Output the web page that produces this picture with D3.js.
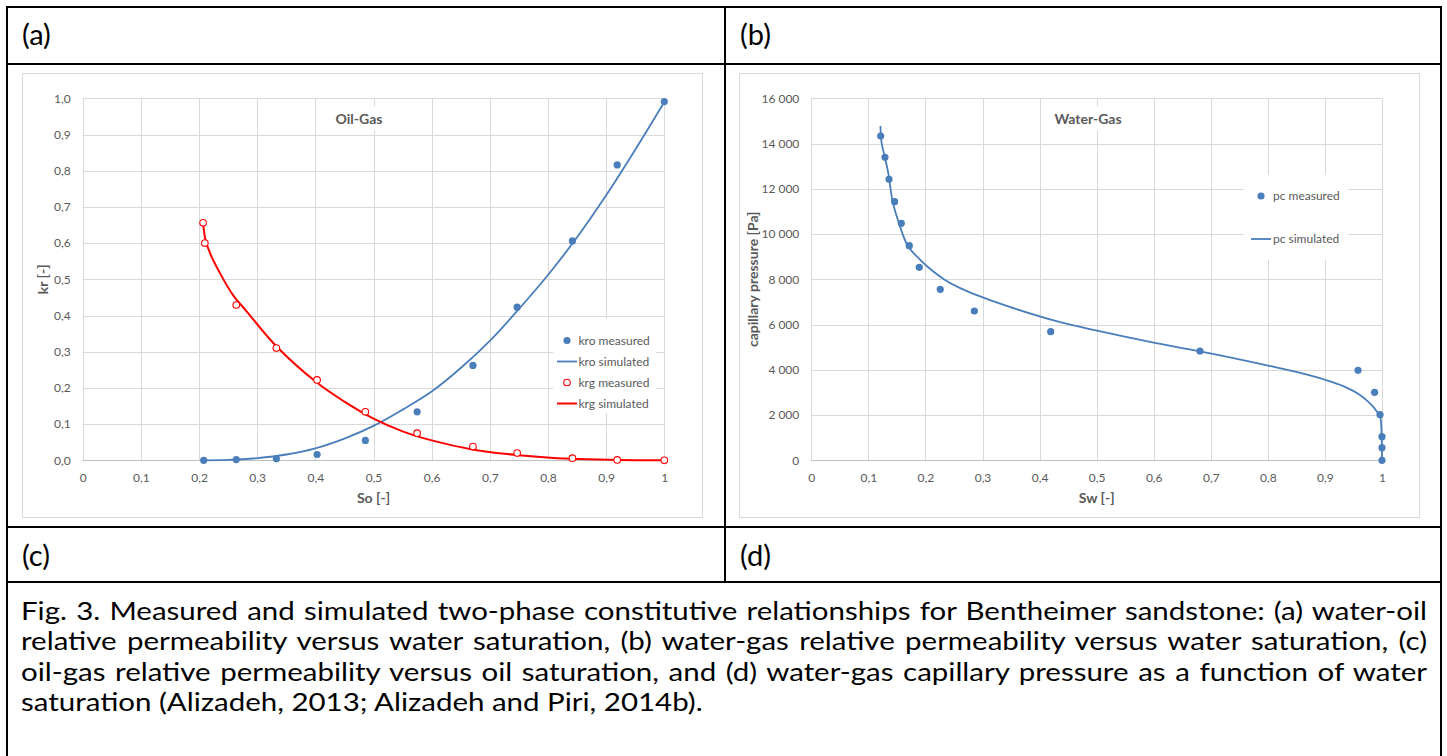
<!DOCTYPE html>
<html><head><meta charset="utf-8">
<script src="https://cdn.jsdelivr.net/npm/d3@7"></script>
<style>
html,body{margin:0;padding:0;background:#fff;}
svg{display:block;font-family:Lato,"Liberation Sans",sans-serif;}
</style></head><body>
<svg id="fig" width="1447" height="756"></svg>
<script>
// ---------------- data ----------------
// Panel (c): Oil-Gas relative permeability
const soKroMeasured = [0.208,0.264,0.333,0.403,0.486,0.575,0.671,0.747,0.842,0.919,1.0];
const kroMeasured   = [0.000,0.002,0.004,0.016,0.055,0.134,0.262,0.423,0.606,0.816,0.991];
const soKrgMeasured = [0.207,0.210,0.264,0.333,0.403,0.486,0.575,0.671,0.747,0.842,0.919,1.0];
const krgMeasured   = [0.656,0.600,0.429,0.310,0.222,0.134,0.075,0.038,0.020,0.006,0.001,0.000];
const soKroSimulated = [0.207,0.25,0.30,0.35,0.40,0.45,0.50,0.55,0.60,0.65,0.70,0.75,0.80,0.85,0.90,0.95,1.0];
const kroSimulated   = [0.000,0.001,0.006,0.016,0.033,0.060,0.095,0.140,0.190,0.255,0.330,0.418,0.512,0.616,0.732,0.858,0.990];
const soKrgSimulated = [0.207,0.211,0.219,0.236,0.259,0.281,0.333,0.403,0.45,0.50,0.55,0.60,0.67,0.75,0.84,0.92,1.0];
const krgSimulated   = [0.656,0.610,0.572,0.517,0.455,0.413,0.315,0.214,0.162,0.115,0.080,0.055,0.030,0.014,0.004,0.001,0.000];
const krXTicks = [0,0.1,0.2,0.3,0.4,0.5,0.6,0.7,0.8,0.9,1];
const krYTicks = [0,0.1,0.2,0.3,0.4,0.5,0.6,0.7,0.8,0.9,1.0];

// Panel (d): Water-Gas capillary pressure
const swPcMeasured = [0.1216,0.1291,0.1362,0.146,0.1577,0.1717,0.1892,0.226,0.2857,0.4195,0.681,0.958,0.987,0.9965,1.0,1.0,1.0];
const pcMeasured   = [14334,13392,12420,11431,10475,9486,8530,7558,6599,5684,4831,3978,3005,2016,1043,557,0];
const swPcSimulated = [0.1211,0.1233,0.129,0.135,0.1426,0.1537,0.169,0.19,0.21,0.235,0.26,0.29,0.345,0.4328,0.5006,0.60,0.699,0.7985,0.85,0.90,0.933,0.962,0.9795,0.991,0.9965,0.9988,0.9997,1.0];
const pcSimulated   = [14776,14011,13392,12685,11431,10475,9486,8880,8420,7960,7620,7300,6800,6127,5729,5199,4729,4200,3905,3560,3270,2880,2500,2160,1950,1485,601,0];
const pcXTicks = [0,0.1,0.2,0.3,0.4,0.5,0.6,0.7,0.8,0.9,1];
const pcYTicks = [0,2000,4000,6000,8000,10000,12000,14000,16000];

const panelLabels = ["(a)","(b)","(c)","(d)"];
const captionLines = [
  "Fig. 3. Measured and simulated two-phase constitutive relationships for Bentheimer sandstone: (a) water-oil",
  "relative permeability versus water saturation, (b) water-gas relative permeability versus water saturation, (c)",
  "oil-gas relative permeability versus oil saturation, and (d) water-gas capillary pressure as a function of water",
  "saturation (Alizadeh, 2013; Alizadeh and Piri, 2014b)."
];

// ---------------- drawing ----------------
const svg = d3.select("#fig");
const loc = d3.formatLocale({decimal:",", thousands:"\u00a0", grouping:[3], currency:["",""]});
const fmtShort = loc.format("");     // 0, 0,1, ... 1
const fmtOne = loc.format(".1f");    // 0,0 ... 1,0
const fmtThousands = loc.format(",");

const BLUE = "#4a7ebb", RED = "#ff0000", GRID = "#d9d9d9", TXT = "#595959";

function drawChart(o) {
  const g = svg.append("g");
  g.append("rect").attr("x", o.box[0]+0.5).attr("y", o.box[1]+0.5)
    .attr("width", o.box[2]-o.box[0]).attr("height", o.box[3]-o.box[1])
    .attr("fill", "#fff").attr("stroke", GRID).attr("stroke-width", 1);
  const x = d3.scaleLinear().domain([0,1]).range([o.plot[0], o.plot[2]]);
  const y = d3.scaleLinear().domain(o.yDomain).range([o.plot[3], o.plot[1]]);

  // grid
  g.append("g").selectAll("line").data(o.xTicks).join("line")
    .attr("x1", d => Math.round(x(d))+0.5).attr("x2", d => Math.round(x(d))+0.5)
    .attr("y1", o.plot[1]).attr("y2", o.plot[3])
    .attr("stroke", GRID).attr("stroke-width", 1);
  g.append("g").selectAll("line").data(o.yTicks).join("line")
    .attr("x1", o.plot[0]).attr("x2", o.plot[2])
    .attr("y1", d => Math.round(y(d))+0.5).attr("y2", d => Math.round(y(d))+0.5)
    .attr("stroke", d => d === 0 ? "#bfbfbf" : GRID).attr("stroke-width", 1);

  // axes (labels only)
  const ax = g.append("g").attr("transform", `translate(0,${o.plot[3]})`)
    .call(d3.axisBottom(x).tickValues(o.xTicks).tickFormat(o.xFmt).tickSize(0).tickPadding(13));
  const ay = g.append("g").attr("transform", `translate(${o.plot[0]},0)`)
    .call(d3.axisLeft(y).tickValues(o.yTicks).tickFormat(o.yFmt).tickSize(0).tickPadding(12));
  [ax, ay].forEach(a => {
    a.select(".domain").remove();
    a.selectAll("text").attr("fill", TXT).style("font-size", "12px").style("font-family", "Lato");
  });

  // axis titles
  g.append("text").attr("x", (o.plot[0]+o.plot[2])/2).attr("y", o.plot[3]+43)
    .attr("text-anchor", "middle").attr("fill", TXT).attr("font-weight", "bold")
    .style("font-size", "14px").text(o.xTitle);
  g.append("text").attr("transform", `translate(${o.yTitleX},${(o.plot[1]+o.plot[3])/2}) rotate(-90)`)
    .attr("text-anchor", "middle").attr("fill", TXT).attr("font-weight", "bold")
    .style("font-size", "14px").text(o.yTitle);

  // chart title with white background
  const t = g.append("text").attr("x", o.titleX).attr("y", o.plot[1]+26)
    .attr("text-anchor", "middle").attr("fill", TXT).attr("font-weight", "bold")
    .style("font-size", "14px").text(o.title);
  const bb = t.node().getBBox();
  g.insert("rect", () => t.node()).attr("x", bb.x-6).attr("y", o.plot[1]+8)
    .attr("width", bb.width+12).attr("height", 24).attr("fill", "#fff");

  // series
  o.lines.forEach(s => {
    const pts = s.xs.map((v,i) => [v, s.ys[i]]);
    g.append("path").datum(pts)
      .attr("d", d3.line().x(d => x(d[0])).y(d => y(d[1])).curve(d3.curveCatmullRom.alpha(0.5)))
      .attr("fill", "none").attr("stroke", s.color).attr("stroke-width", s.width);
  });
  o.points.forEach(s => {
    const pts = s.xs.map((v,i) => [v, s.ys[i]]);
    g.append("g").selectAll("circle").data(pts).join("circle")
      .attr("cx", d => x(d[0])).attr("cy", d => y(d[1]))
      .attr("r", s.open ? 3.3 : 3.6)
      .attr("fill", s.open ? "#fff" : s.color)
      .attr("stroke", s.open ? s.color : "none").attr("stroke-width", 1.1);
  });

  // legend
  const L = o.legend;
  g.append("rect").attr("x", L.box[0]).attr("y", L.box[1])
    .attr("width", L.box[2]-L.box[0]).attr("height", L.box[3]-L.box[1]).attr("fill", "#fff");
  L.items.forEach((it, i) => {
    const cy = L.rows[i];
    if (it.type === "line") {
      g.append("line").attr("x1", L.mx-10).attr("x2", L.mx+10).attr("y1", cy).attr("y2", cy)
        .attr("stroke", it.color).attr("stroke-width", it.width);
    } else {
      g.append("circle").attr("cx", L.mx).attr("cy", cy).attr("r", it.open ? 3.3 : 3.6)
        .attr("fill", it.open ? "#fff" : it.color)
        .attr("stroke", it.open ? it.color : "none").attr("stroke-width", 1.1);
    }
    g.append("text").attr("x", L.tx).attr("y", cy+4).attr("fill", TXT)
      .style("font-size", "12px").text(it.label);
  });
}

// Left: Oil-Gas
drawChart({
  box: [22, 73, 702, 517],
  plot: [82.7, 98.3, 664.3, 460.3],
  yDomain: [0, 1],
  xTicks: krXTicks, yTicks: krYTicks,
  xFmt: fmtShort, yFmt: fmtOne,
  xTitle: "So [-]", yTitle: "kr [-]", yTitleX: 48,
  title: "Oil-Gas", titleX: 359,
  lines: [
    {xs: soKroSimulated, ys: kroSimulated, color: BLUE, width: 1.8},
    {xs: soKrgSimulated, ys: krgSimulated, color: RED, width: 2}
  ],
  points: [
    {xs: soKroMeasured, ys: kroMeasured, color: BLUE, open: false},
    {xs: soKrgMeasured, ys: krgMeasured, color: RED, open: true}
  ],
  legend: {
    box: [553, 319, 656, 413], mx: 567, tx: 578.5,
    rows: [340.5, 361.5, 382.5, 403.5],
    items: [
      {type: "point", color: BLUE, open: false, label: "kro measured"},
      {type: "line", color: BLUE, width: 1.8, label: "kro simulated"},
      {type: "point", color: RED, open: true, label: "krg measured"},
      {type: "line", color: RED, width: 2, label: "krg simulated"}
    ]
  }
});

// Right: Water-Gas
drawChart({
  box: [739, 73, 1419, 517],
  plot: [811.3, 98.3, 1382, 460.3],
  yDomain: [0, 16000],
  xTicks: pcXTicks, yTicks: pcYTicks,
  xFmt: fmtShort, yFmt: fmtThousands,
  xTitle: "Sw [-]", yTitle: "capillary pressure [Pa]", yTitleX: 758,
  title: "Water-Gas", titleX: 1088,
  lines: [
    {xs: swPcSimulated, ys: pcSimulated, color: BLUE, width: 1.8}
  ],
  points: [
    {xs: swPcMeasured, ys: pcMeasured, color: BLUE, open: false}
  ],
  legend: {
    box: [1244, 175, 1348, 260], mx: 1261, tx: 1273,
    rows: [196, 239],
    items: [
      {type: "point", color: BLUE, open: false, label: "pc measured"},
      {type: "line", color: BLUE, width: 1.8, label: "pc simulated"}
    ]
  }
});

// ---------------- table frame ----------------
const frame = svg.append("g").attr("stroke", "#000").attr("stroke-width", 2);
[[7,7,1441,7],[7,64,1441,64],[7,527,1441,527],[7,582,1441,582],
 [7,6,7,756],[1441,6,1441,756],[725,7,725,582]].forEach(l => {
  frame.append("line").attr("x1", l[0]).attr("y1", l[1]).attr("x2", l[2]).attr("y2", l[3]);
});

const labelPos = [[22,45],[740,45],[22,566],[740,566]];
panelLabels.forEach((t,i) => {
  svg.append("text").attr("x", labelPos[i][0]).attr("y", labelPos[i][1])
    .attr("fill", "#000").style("font-size", "29px").text(t);
});

// caption: lines justified by word spacing; glyphs widened horizontally
const capBase = [620, 650.5, 681, 711.5];
const capWidth = 1406, capStretch = 1.17;
const capG = svg.append("g").attr("transform", `translate(21,0) scale(${capStretch},1)`);
captionLines.forEach((t,i) => {
  const ts = capG.append("text").attr("x", 0).attr("y", capBase[i])
    .attr("fill", "#000").style("font-size", "25.2px").text(t);
  if (i < captionLines.length - 1) {
    const target = capWidth / capStretch;
    const natural = ts.node().getComputedTextLength();
    const spaces = (t.match(/ /g) || []).length;
    const extra = (target - natural) / spaces;
    if (extra >= -2) ts.style("word-spacing", extra + "px");
    else ts.attr("textLength", target).attr("lengthAdjust", "spacingAndGlyphs");
  }
});
</script>
</body></html>
